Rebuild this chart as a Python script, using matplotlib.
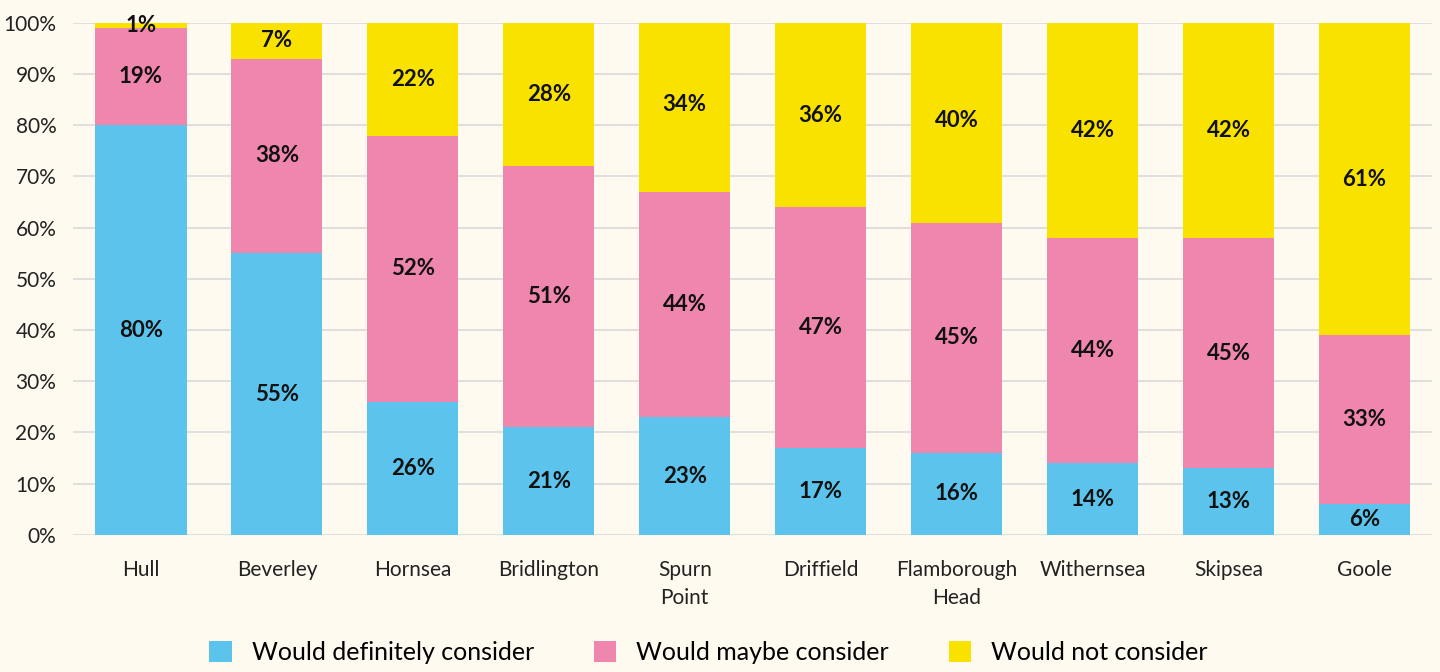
import numpy as np
import matplotlib.pyplot as plt
from matplotlib.patches import Patch

plt.rcParams['font.family'] = ['Lato', 'DejaVu Sans']

towns = ['Hull', 'Beverley', 'Hornsea', 'Bridlington', 'Spurn\nPoint', 'Driffield',
         'Flamborough\nHead', 'Withernsea', 'Skipsea', 'Goole']
definitely = [80, 55, 26, 21, 23, 17, 16, 14, 13, 6]
maybe = [19, 38, 52, 51, 44, 47, 45, 44, 45, 33]
not_consider = [1, 7, 22, 28, 34, 36, 40, 42, 42, 61]

series_names = ['Would definitely consider', 'Would maybe consider', 'Would not consider']
colours = ['#5CC4EC', '#EF86AD', '#F9E200']
bg = '#FEFAEF'


def main():
    fig = plt.figure(figsize=(14.4, 6.72), dpi=100, facecolor=bg)
    ax = fig.add_axes([0.0507, 0.204, 0.944, 0.762], facecolor=bg)

    x = np.arange(len(towns))
    bottom = np.zeros(len(towns))
    for vals, col in zip([definitely, maybe, not_consider], colours):
        vals = np.array(vals, dtype=float)
        ax.bar(x, vals, width=0.67, bottom=bottom, color=col, zorder=2)
        for xi, b, v in zip(x, bottom, vals):
            ax.text(xi, min(b + v / 2, 99.4), f'{v:.0f}%', ha='center', va='center',
                    fontsize=16, fontweight='bold', color='#111111', zorder=3)
        bottom += vals

    ax.set_xlim(-0.5, 9.5)
    ax.set_ylim(0, 100)
    ax.set_yticks(np.arange(0, 101, 10))
    ax.set_yticklabels([f'{t}%' for t in range(0, 101, 10)])
    ax.set_xticks(x)
    ax.set_xticklabels(towns, linespacing=1.5)
    ax.tick_params(axis='y', length=0, pad=12, labelsize=15, labelcolor='#222222')
    ax.tick_params(axis='x', length=0, pad=18, labelsize=15, labelcolor='#222222')
    ax.grid(axis='y', color='#DADADA', linewidth=1.2, zorder=0)
    for s in ax.spines.values():
        s.set_visible(False)

    handles = [Patch(facecolor=c, label=n) for c, n in zip(colours, series_names)]
    fig.legend(handles=handles, loc='lower center', bbox_to_anchor=(0.492, -0.022),
               ncol=3, frameon=False, fontsize=18, handlelength=0.9, handleheight=0.9,
               handletextpad=0.8, columnspacing=2.4)

    fig.savefig('out.png', dpi=100, facecolor=bg)


if __name__ == '__main__':
    main()
